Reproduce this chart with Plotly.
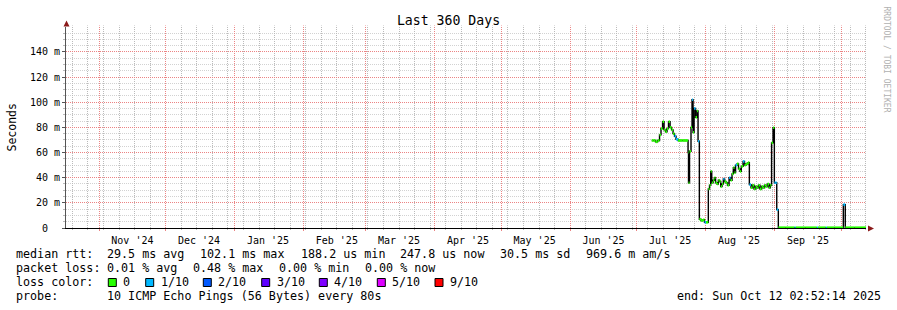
import math
import plotly.graph_objects as go
import pandas as pd

# ---------------- data ----------------
start_time = "2024-10-17 02:52:14"
end_time = "2025-10-12 02:52:14"

sample_times = [
    "2025-07-07 17:00", "2025-07-08 12:00", "2025-07-09 10:00", "2025-07-10 08:00",
    "2025-07-11 05:00", "2025-07-11 21:00", "2025-07-12 14:00", "2025-07-13 06:00",
    "2025-07-13 22:00", "2025-07-14 14:00", "2025-07-15 06:00", "2025-07-15 23:00",
    "2025-07-16 15:00", "2025-07-17 07:00", "2025-07-17 23:00", "2025-07-18 15:00",
    "2025-07-19 13:00", "2025-07-21 12:00", "2025-07-23 14:00", "2025-07-24 01:00",
    "2025-07-24 06:00", "2025-07-24 17:00", "2025-07-25 09:00", "2025-07-25 20:00",
    "2025-07-26 07:00", "2025-07-26 18:00", "2025-07-27 10:00", "2025-07-28 02:00",
    "2025-07-28 13:00", "2025-07-29 03:00", "2025-07-29 21:00", "2025-07-30 19:00",
    "2025-07-31 11:00", "2025-08-01 03:00", "2025-08-02 04:00", "2025-08-02 17:00",
    "2025-08-03 06:00", "2025-08-03 17:00", "2025-08-04 07:00", "2025-08-04 21:00",
    "2025-08-05 10:00", "2025-08-06 02:00", "2025-08-06 16:00", "2025-08-07 05:00",
    "2025-08-07 18:00", "2025-08-08 08:00", "2025-08-08 22:00", "2025-08-09 11:00",
    "2025-08-10 03:00", "2025-08-10 19:00", "2025-08-11 12:00", "2025-08-12 04:00",
    "2025-08-12 20:00", "2025-08-13 10:00", "2025-08-13 23:00", "2025-08-14 10:00",
    "2025-08-15 02:00", "2025-08-15 18:00", "2025-08-16 10:00", "2025-08-17 00:00",
    "2025-08-17 19:00", "2025-08-18 11:00", "2025-08-19 03:00", "2025-08-20 01:00",
    "2025-08-20 15:00", "2025-08-21 09:00", "2025-08-22 01:00", "2025-08-22 18:00",
    "2025-08-23 10:00", "2025-08-24 02:00", "2025-08-24 18:00", "2025-08-25 10:00",
    "2025-08-26 03:00", "2025-08-26 19:00", "2025-08-27 11:00", "2025-08-28 03:00",
    "2025-08-28 19:00", "2025-08-29 12:00", "2025-08-30 02:00", "2025-08-30 15:00",
    "2025-08-31 07:00", "2025-08-31 21:00", "2025-09-01 10:00", "2025-09-01 23:00",
    "2025-09-02 16:00", "2025-09-06 00:00", "2025-09-10 00:00", "2025-09-10 12:00",
    "2025-09-15 00:00", "2025-09-20 00:00", "2025-09-20 12:00", "2025-09-24 00:00",
    "2025-09-24 12:00", "2025-09-28 00:00", "2025-10-01 22:00", "2025-10-02 19:00",
    "2025-10-07 00:00",
]

median_rtt_ms = [
    69.6, 69.6, 68.5, 69.6,
    74.0, 79.0, 84.5, 78.0,
    76.5, 79.0, 84.5, 80.0,
    78.0, 75.0, 73.0, 70.5,
    69.6, 69.6, 69.6, 60.0,
    36.0, 61.0, 80.0, 102.0,
    76.0, 95.0, 88.0, 93.0,
    69.0, 7.0, 6.0, 6.5,
    4.5, 4.5, 31.0, 34.0,
    45.0, 36.0, 38.0, 40.0,
    36.0, 35.0, 38.0, 37.0,
    33.0, 35.0, 39.0, 37.0,
    36.0, 34.0, 40.0, 38.0,
    43.0, 48.0, 44.0, 50.0,
    51.0, 47.0, 45.0, 49.0,
    53.0, 50.0, 51.0, 52.0,
    34.5, 32.0, 34.0, 31.0,
    33.0, 32.0, 34.0, 31.0,
    33.0, 32.0, 34.0, 33.0,
    35.0, 32.0, 34.0, 67.7,
    79.7, 36.0, 36.0, 14.6,
    0.25, 0.22, 0.24, 0.23,
    0.22, 0.23, 0.22, 0.24,
    0.23, 0.22, 18.6, 0.25,
    0.24,
]

loss_tenths = [
    0, 0, 0, 0,
    0, 0, 0, 0,
    0, 0, 0, 0,
    0, 0, 1, 1,
    0, 0, 0, 0,
    0, 0, 0, 1,
    0, 1, 0, 0,
    1, 0, 0, 0,
    1, 0, 0, 0,
    0, 0, 0, 0,
    0, 0, 0, 0,
    0, 0, 1, 0,
    0, 0, 1, 0,
    0, 0, 0, 1,
    0, 0, 0, 0,
    1, 0, 0, 0,
    1, 0, 0, 0,
    0, 0, 0, 0,
    0, 0, 0, 0,
    0, 0, 0, 0,
    0, 1, 1, 1,
    0, 0, 1, 0,
    0, 1, 0, 1,
    0, 0, 1, 0,
    0,
]

loss_levels = [0, 1, 2, 3, 4, 5, 9]
loss_labels = ["0", "1/10", "2/10", "3/10", "4/10", "5/10", "9/10"]
loss_colors = ["#26ff00", "#00b8ff", "#0059ff", "#5e00ff", "#7e00ff", "#dd00ff", "#ff0000"]

y_tick_values_ms = [0, 20, 40, 60, 80, 100, 120, 140]
y_tick_labels = ["0<span style='color:rgba(0,0,0,0)'>mm</span>", "20 m", "40 m", "60 m",
                 "80 m", "100 m", "120 m", "140 m"]
y_minor_step_ms = 5
y_max_ms = 159.8

title_text = "Last 360 Days"
y_title = "Seconds"
stats_items = ["median rtt:", "29.5 ms avg", "102.1 ms max", "188.2 us min",
               "247.8 us now", "30.5 ms sd", "969.6 m am/s"]
loss_items = ["packet loss:", "0.01 % avg", "0.48 % max", "0.00 % min", "0.00 % now"]
color_caption = "loss color:"
probe_items = ["probe:", "10 ICMP Echo Pings (56 Bytes) every 80s"]
end_line = "end: Sun Oct 12 02:52:14 2025"
watermark = "RRDTOOL / TOBI OETIKER"

# ---------------- layout geometry ----------------
W, H = 897, 310
L, R, T, B = 66, 31, 27, 82
PW, PH = W - L - R, H - T - B
MONO = "DejaVu Sans Mono"
GRAY_H = "#d2d2d2"
GRAY_V = "#bababa"
RED = "#ec8484"
DASH = "1px,1px"


def px(x):
    return (x - L) / PW


def py(y):
    return (H - B - y) / PH


def nb(s):
    return s.replace(" ", "\u00a0")


t0, t1 = pd.Timestamp(start_time), pd.Timestamp(end_time)


def time_paper(t):
    """paper x of a time, snapped to a pixel centre for crisp 1px grid lines"""
    pix = L + (pd.Timestamp(t) - t0) / (t1 - t0) * PW
    return (math.floor(pix) + 0.5 - L) / PW


def value_paper(v_ms):
    pix = T + PH * (1 - v_ms / y_max_ms)
    return 1 - (math.floor(pix) + 0.5 - T) / PH


month_starts = pd.date_range("2024-11-01", "2025-10-01", freq="MS")
label_dates = [(d + pd.Timedelta(days=15)).strftime("%Y-%m-%d") for d in month_starts
               if d + pd.Timedelta(days=15) < t1]
label_text = [d.strftime("%b '%y") for d in month_starts][: len(label_dates)]
week_starts = [d for d in pd.date_range("2024-10-20", end_time, freq="7D") if d.day != 1]

times_ext = sample_times + [end_time]
vals_ext = median_rtt_ms + [median_rtt_ms[-1]]
to_s = [v / 1000.0 for v in vals_ext]

shapes = []
top_paper = 1 + 1.5 / PH
# horizontal grid
minor_vals = [v for v in range(y_minor_step_ms, int(y_max_ms), y_minor_step_ms) if v not in y_tick_values_ms]
for v in minor_vals:
    yp = value_paper(v)
    shapes.append(dict(type="line", xref="paper", yref="paper", x0=0, x1=1, y0=yp, y1=yp,
                       layer="below", line=dict(color=GRAY_H, width=1, dash=DASH)))
# vertical grid: weekly (gray) then monthly (red)
for d in week_starts:
    xp = time_paper(d)
    shapes.append(dict(type="line", xref="paper", yref="paper", x0=xp, x1=xp, y0=0, y1=top_paper,
                       layer="below", line=dict(color=GRAY_V, width=1, dash=DASH)))
    shapes.append(dict(type="line", xref="paper", yref="paper", x0=xp, x1=xp, y0=0, y1=-2 / PH,
                       layer="below", line=dict(color=GRAY_V, width=1)))
for v in y_tick_values_ms[1:]:
    yp = value_paper(v)
    shapes.append(dict(type="line", xref="paper", yref="paper", x0=0, x1=1, y0=yp, y1=yp,
                       layer="below", line=dict(color=RED, width=1, dash=DASH)))
for d in month_starts:
    xp = time_paper(d)
    shapes.append(dict(type="line", xref="paper", yref="paper", x0=xp, x1=xp, y0=0, y1=top_paper,
                       layer="below", line=dict(color=RED, width=1, dash=DASH)))
    shapes.append(dict(type="line", xref="paper", yref="paper", x0=xp, x1=xp, y0=0, y1=-3 / PH,
                       layer="below", line=dict(color=RED, width=1)))

fig = go.Figure()

# dark median line
fig.add_trace(go.Scatter(
    x=times_ext, y=to_s, mode="lines",
    line=dict(color="#000000", width=1.4, shape="hv"),
    hoverinfo="skip", showlegend=False,
))

# colored loss bands (horizontal pieces)
for lvl, col in zip(loss_levels, loss_colors):
    bx, by = [], []
    for i in range(len(median_rtt_ms)):
        if loss_tenths[i] == lvl:
            bx += [times_ext[i], times_ext[i + 1], None]
            by += [to_s[i], to_s[i], None]
    if bx:
        fig.add_trace(go.Scatter(
            x=bx, y=by, mode="lines",
            line=dict(color=col, width=2.6),
            hoverinfo="skip", showlegend=False,
        ))

arrow_col = "#8b1a1a"
shapes.append(dict(type="path", xref="paper", yref="paper",
                   path=f"M {px(66.5)} {py(20.5)} L {px(63.5)} {py(26.5)} L {px(69.5)} {py(26.5)} Z",
                   fillcolor=arrow_col, line=dict(width=0)))
shapes.append(dict(type="path", xref="paper", yref="paper",
                   path=f"M {px(874)} {py(228.5)} L {px(868)} {py(225.5)} L {px(868)} {py(231.5)} Z",
                   fillcolor=arrow_col, line=dict(width=0)))

annotations = []
ann_font = dict(family=MONO, size=11.7, color="#000000")


def add_text(text, x, y, anchor="left", font=None, angle=0):
    annotations.append(dict(text=nb(text), x=px(x), y=py(y), xref="paper", yref="paper",
                            xanchor=anchor, yanchor="middle", showarrow=False,
                            font=font or ann_font, borderpad=0, borderwidth=0, textangle=angle))


for txt, x in zip(stats_items, [16, 107.3, 200.3, 300.7, 400, 500, 586]):
    add_text(txt, x, 254.3)
for txt, x in zip(loss_items, [16, 107.3, 193.3, 279.3, 365.3]):
    add_text(txt, x, 268.3)
add_text(color_caption, 16, 282.3)
for txt, x in zip(probe_items, [16, 107.3]):
    add_text(txt, x, 296.3)
add_text(end_line, 881, 296.3, anchor="right")

box_lefts = [108.3, 145.7, 203.3, 261.7, 319.3, 377.3, 435.0]
for bl, lab, col in zip(box_lefts, loss_labels, loss_colors):
    shapes.append(dict(type="rect", xref="paper", yref="paper",
                       x0=px(bl), x1=px(bl + 8), y0=py(278.5), y1=py(286.5),
                       fillcolor=col, line=dict(color="#000000", width=1)))
    add_text(lab, bl + 15, 282.3)

add_text(y_title, 11, 127.5, anchor="center", font=dict(family=MONO, size=11.5, color="#000"), angle=-90)
add_text(watermark, 886.5, 59, anchor="center", font=dict(family=MONO, size=8, color="#b0b0b0"), angle=90)

fig.update_layout(
    width=W, height=H,
    margin=dict(l=L, r=R, t=T, b=B, pad=0),
    paper_bgcolor="#ffffff", plot_bgcolor="rgba(0,0,0,0)",
    showlegend=False,
    title=dict(text=title_text, x=0.5, xref="container", xanchor="center",
               y=1 - 20 / H, yref="container", yanchor="middle",
               font=dict(family=MONO, size=13.2, color="#000000")),
    xaxis=dict(
        type="date", range=[start_time, end_time],
        tickmode="array", tickvals=label_dates, ticktext=label_text,
        tickfont=dict(family=MONO, size=10, color="#000000"),
        showgrid=False, ticks="outside", ticklen=3, tickcolor="rgba(0,0,0,0)",
        showline=True, linecolor="#000000", linewidth=1, zeroline=False,
    ),
    yaxis=dict(
        range=[0, y_max_ms / 1000.0],
        tickmode="array", tickvals=[v / 1000.0 for v in y_tick_values_ms], ticktext=y_tick_labels,
        tickfont=dict(family=MONO, size=10, color="#000000"),
        showgrid=False,
        ticks="outside", ticklen=3, tickcolor="#555555",
        minor=dict(tick0=0, dtick=y_minor_step_ms / 1000.0, showgrid=False,
                   ticks="outside", ticklen=2, tickcolor=GRAY_V),
        showline=True, linecolor="#555555", linewidth=1, zeroline=False,
    ),
    shapes=shapes,
    annotations=annotations,
)

fig.write_html("out.html")
